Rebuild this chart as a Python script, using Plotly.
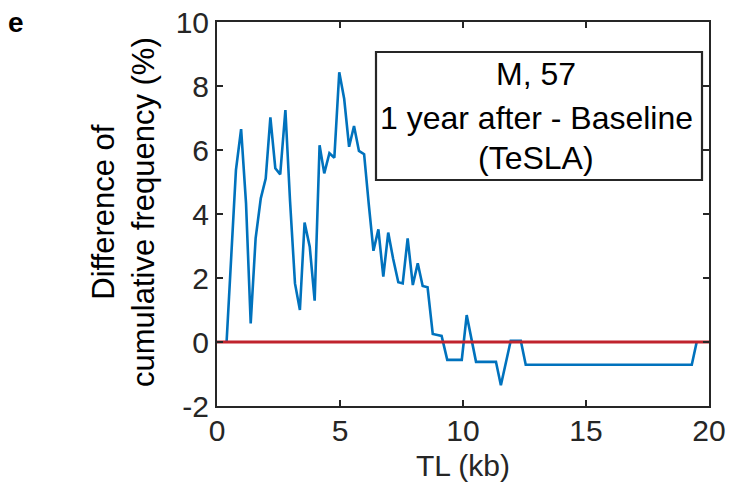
import plotly.graph_objects as go

# Data
tl_kb = [0.39, 0.77, 0.98, 1.18, 1.37, 1.57, 1.78, 1.98, 2.17, 2.37, 2.57, 2.78,
         2.97, 3.17, 3.37, 3.56, 3.77, 3.97, 4.17, 4.36, 4.57, 4.77, 4.97, 5.17,
         5.37, 5.57, 5.77, 5.98, 6.17, 6.36, 6.56, 6.76, 6.96, 7.16, 7.37, 7.55,
         7.75, 7.96, 8.16, 8.36, 8.56, 8.77, 8.96, 9.13, 9.36, 9.95, 10.15, 10.53,
         11.34, 11.54, 11.94, 12.35, 12.55, 19.30, 19.50]
diff_pct = [0.0, 5.37, 6.65, 4.33, 0.58, 3.24, 4.49, 5.11, 7.02, 5.43, 5.24, 7.25,
            4.40, 1.83, 1.00, 3.73, 2.98, 1.29, 6.15, 5.27, 5.90, 5.76, 8.43, 7.60,
            6.10, 6.75, 5.97, 5.87, 4.30, 2.85, 3.52, 2.04, 3.42, 2.60, 1.87, 1.83,
            3.24, 1.78, 2.46, 1.75, 1.71, 0.25, 0.22, 0.19, -0.56, -0.56, 0.84, -0.62,
            -0.62, -1.35, 0.04, 0.04, -0.71, -0.71, 0.0]
ref_x = [0, 20]
ref_y = [0, 0]

x_ticks = [0, 5, 10, 15, 20]
x_tick_text = ["0", "5", "10", "15", "20"]
y_ticks = [-2, 0, 2, 4, 6, 8, 10]
y_tick_text = ["-2", "0", "2", "4", "6", "8", "10"]
box_lines = ["M, 57", "1 year after - Baseline", "(TeSLA)"]

FONT = "Liberation Sans, Arial, sans-serif"
AX = "#262626"

fig = go.Figure()
fig.add_trace(go.Scatter(x=tl_kb, y=diff_pct, mode="lines",
                         line=dict(color="#0072BD", width=2.6), showlegend=False))
fig.add_trace(go.Scatter(x=ref_x, y=ref_y, mode="lines",
                         line=dict(color="#C0232D", width=2.8), showlegend=False))

W, H = 730, 486
L, R, T, B = 217, 21, 22, 80
pw, ph = W - L - R, H - T - B

def px(xp):
    return (xp - L) / pw

def py(yp):
    return (H - B - yp) / ph

axis_common = dict(showline=True, linecolor=AX, linewidth=2, mirror="ticks",
                   ticks="inside", ticklen=6, tickwidth=2, tickcolor=AX,
                   showgrid=False, zeroline=False, automargin=False,
                   tickfont=dict(family=FONT, size=30, color=AX))

fig.update_layout(
    width=W, height=H,
    margin=dict(l=L, r=R, t=T, b=B, autoexpand=False),
    plot_bgcolor="white", paper_bgcolor="white",
    xaxis=dict(range=[0, 20], tickvals=x_ticks, ticktext=x_tick_text,
               ticklabelstandoff=-3, **axis_common),
    yaxis=dict(range=[-2, 10], tickvals=y_ticks, ticktext=y_tick_text,
               **axis_common),
)

# Text box
fig.add_shape(type="rect", xref="paper", yref="paper",
              x0=px(376), x1=px(702), y0=py(180), y1=py(52),
              line=dict(color=AX, width=2.2), fillcolor="white")
for txt, yc in zip(box_lines, [74, 118, 158]):
    fig.add_annotation(text=txt, xref="paper", yref="paper", x=px(536), y=py(yc),
                       showarrow=False, xanchor="center", yanchor="middle",
                       font=dict(family=FONT, size=32, color="black"))

# Axis titles
fig.add_annotation(text="Difference of<br>cumulative frequency (%)",
                   xref="paper", yref="paper", x=px(123), y=py(212),
                   showarrow=False, textangle=-90, xanchor="center", yanchor="middle",
                   font=dict(family=FONT, size=31, color="black"))
fig.add_annotation(text="TL (kb)", xref="paper", yref="paper", x=px(463), y=py(465),
                   showarrow=False, xanchor="center", yanchor="middle",
                   font=dict(family=FONT, size=30, color=AX))
# Panel letter
fig.add_annotation(text="<b>e</b>", xref="paper", yref="paper", x=px(16), y=py(23),
                   showarrow=False, xanchor="center", yanchor="middle",
                   font=dict(family=FONT, size=28, color="black"))

fig.write_html("out.html")
